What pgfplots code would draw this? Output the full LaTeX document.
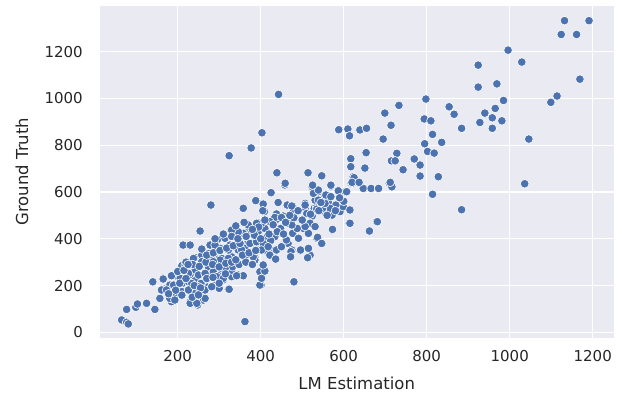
\documentclass[border=0pt]{standalone}
\usepackage{pgfplots}
\pgfplotsset{compat=1.18}
\usepackage{pgfplotstable}
\usepackage{fontspec}
\setmainfont{DejaVu Sans}
\definecolor{bg}{HTML}{EAEAF2}
\definecolor{dot}{HTML}{4C72B0}
\pgfplotstableread{
X Y
65 53
77 43
81 36
77 98
99 107
103 121
125 124
145 98
139 216
165 231
184 241
157 145
168 185
181 202
161 184
173 178
192 145
185 131
210 174
193 164
211 159
230 131
248 117
262 138
258 167
242 167
226 181
197 241
210 281
193 195
211 209
226 216
242 224
256 209
274 195
286 202
299 192
310 224
330 238
322 184
230 248
242 266
250 245
266 252
282 249
298 259
306 273
322 278
330 266
346 245
358 241
213 373
230 373
242 320
258 330
258 356
275 337
278 373
296 397
306 359
290 316
306 316
330 323
322 352
346 352
354 377
370 387
254 433
328 437
348 426
368 426
370 459
393 469
394 430
410 444
416 409
434 409
424 392
434 352
410 352
401 362
394 387
378 380
362 359
386 320
406 288
398 259
401 202
481 216
362 46
280 544
358 530
388 563
406 551
409 516
442 555
425 597
458 630
465 544
477 540
477 511
438 508
454 497
438 483
426 480
446 440
466 466
479 426
466 380
475 352
495 349
513 320
450 366
507 551
508 530
529 530
553 534
579 544
599 540
615 523
572 501
591 516
555 516
524 497
519 466
503 444
515 423
537 402
547 380
572 437
613 466
524 622
569 622
587 608
603 601
617 634
539 601
555 580
531 565
563 558
406 548
405 520
464 544
475 540
438 506
434 491
450 491
448 444
422 473
402 466
390 466
370 459
378 426
358 423
346 430
330 437
314 402
302 359
290 373
326 373
346 387
354 352
374 380
390 387
406 380
402 352
418 366
422 330
438 352
450 366
477 423
488 444
475 459
491 402
496 352
473 345
462 395
511 508
519 466
531 452
535 537
507 544
531 565
527 594
507 452
519 330
535 402
515 359
569 625
618 637
635 637
650 615
667 615
683 615
709 637
716 622
539 608
557 587
569 580
587 605
607 601
599 537
615 523
581 544
567 530
549 530
535 526
539 565
555 551
615 466
679 473
661 433
573 440
537 406
547 380
210 285
230 124
248 117
140 216
165 228
185 242
161 181
173 181
181 145
193 138
238 316
258 302
274 280
266 252
226 252
206 231
234 209
250 195
266 181
282 195
226 181
210 159
266 145
246 124
282 316
286 259
218 288
190 202
480 216
513 319
472 323
436 313
398 202
402 231
410 262
406 288
324 184
300 188
282 195
358 242
342 242
332 280
314 273
322 316
302 309
286 302
294 238
310 231
362 323
386 309
382 323
443 1017
403 853
377 788
324 755
588 866
610 869
614 840
617 742
617 708
439 682
514 682
547 669
623 665
1132 1332
1191 1332
1124 1273
1161 1273
996 1206
1029 1155
924 1142
1169 1082
969 1062
924 1048
985 991
798 997
1114 1010
1099 983
733 970
854 964
699 937
866 932
965 957
940 937
958 917
928 897
981 904
958 872
794 912
810 904
714 885
884 872
1046 826
639 865
655 872
695 826
814 846
795 806
836 812
802 773
818 766
654 768
728 765
715 733
724 733
770 741
784 715
651 702
743 695
784 668
828 665
1036 635
814 590
884 524
621 637
638 637
647 615
666 615
684 615
710 637
716 622
681 473
662 433
625 661
620 641
637 641
459 637
525 629
569 629
712 641
220 300
236 290
252 282
268 300
284 290
300 280
316 295
330 300
348 290
364 300
380 290
340 310
356 330
372 340
388 350
270 330
286 340
302 350
318 360
334 370
350 380
290 400
310 420
330 410
345 400
365 410
385 415
400 400
420 420
440 430
455 420
200 260
215 265
225 290
240 200
255 190
270 230
285 235
300 210
315 250
205 210
220 230
235 150
250 160
195 180
178 165
460 470
480 490
500 480
520 505
540 520
560 500
580 520
600 560
590 575
545 555
490 520
470 500
430 460
410 480
395 450
380 440
360 470
340 455
}\pts
\begin{document}
\begin{tikzpicture}
\begin{axis}[
 scale only axis, width=513.5bp, height=331.8bp,
 xmin=12.8, xmax=1250, ymin=-22, ymax=1396,
 axis background/.style={fill=bg},
 axis line style={draw=none},
 major tick length=0pt,
 grid=major, major grid style={white, line width=1.2bp},
 xtick={200,400,...,1200}, ytick={0,200,...,1200},
 /pgf/number format/assume math mode=true,
 /pgf/number format/set thousands separator={},
 ticklabel style={font=\fontsize{15bp}{18bp}\selectfont, color=black!85},
 xticklabel style={anchor=center, yshift=-18.5bp},
 yticklabel style={anchor=east, inner sep=0pt, xshift=-17bp},
 xlabel={LM Estimation}, ylabel={Ground Truth},
 label style={font=\fontsize{16.5bp}{20bp}\selectfont, color=black!85},
 xlabel style={at={(axis description cs:0.5,-0.1371)}, anchor=center},
 ylabel style={at={(axis description cs:-0.1519,0.5)}, anchor=center},
]
\addplot[only marks, mark=*, mark size=4.3bp, mark options={fill=dot, draw=white, line width=0.6bp}] table[x=X,y=Y] {\pts};
\coordinate (LL) at (rel axis cs:0,0);
\coordinate (UR) at (rel axis cs:1,1);
\end{axis}
\pgfresetboundingbox
\path ([shift={(-100bp,-61.5bp)}]LL) rectangle ([shift={(8.5bp,5.7bp)}]UR);
\end{tikzpicture}
\end{document}
